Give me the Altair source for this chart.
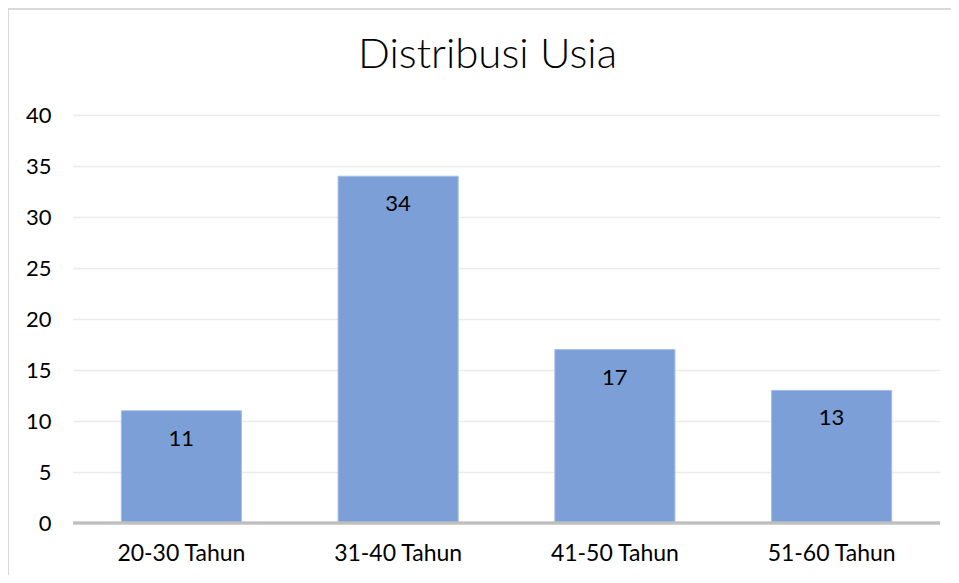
import altair as alt
import pandas as pd

categories = ["20-30 Tahun", "31-40 Tahun", "41-50 Tahun", "51-60 Tahun"]
counts = [11, 34, 17, 13]
y_ticks = [0, 5, 10, 15, 20, 25, 30, 35, 40]

df = pd.DataFrame({"kategori": categories, "jumlah": counts})

FONT = "Lato"
W, H = 867, 408

x = alt.X("kategori:N", sort=categories, title=None,
          scale=alt.Scale(paddingInner=0.446, paddingOuter=0.223),
          axis=alt.Axis(labelAngle=0, labelFont=FONT, labelFontSize=23, labelColor="#000000",
                        ticks=False, domain=False, grid=False, labelPadding=19))
y = alt.Y("jumlah:Q", title=None,
          scale=alt.Scale(domain=[0, 40], nice=False),
          axis=alt.Axis(values=y_ticks, labelFont=FONT, labelFontSize=22, labelColor="#000000",
                        ticks=False, domain=False, grid=True, gridColor="#ebebeb", gridWidth=1.3,
                        labelPadding=22))

bars = alt.Chart(df).mark_bar(color="#7b9fd6", stroke="#a3bde6", strokeWidth=1).encode(x=x, y=y)

labels = alt.Chart(df).mark_text(font=FONT, fontSize=22, color="#000000", baseline="middle", dy=28).encode(
    x=alt.X("kategori:N", sort=categories), y="jumlah:Q", text="jumlah:Q")

baseline = alt.Chart(df).mark_rule(color="#bfbfbf", strokeWidth=2.5).encode(
    x=alt.value(0), x2=alt.value(W), y=alt.value(H))

frame_top = alt.Chart(df).mark_rule(color="#d9d9d9", strokeWidth=2).encode(
    x=alt.value(-65), x2=alt.value(W + 11), y=alt.value(-106))
frame_left = alt.Chart(df).mark_rule(color="#d9d9d9", strokeWidth=2).encode(
    x=alt.value(-65), y=alt.value(-106), y2=alt.value(H + 52))

chart = alt.layer(frame_top, frame_left, bars, baseline, labels).properties(
    width=W, height=H,
    view=alt.ViewBackground(strokeOpacity=0, strokeWidth=0),
    title=alt.TitleParams("Distribusi Usia", font=FONT, fontSize=42, fontWeight=300,
                          color="#000000", anchor="middle", frame="group", offset=0,
                          baseline="alphabetic", dy=102, dx=-19),
    autosize=alt.AutoSizeParams(type="none"),
    padding={"left": 65, "top": 107, "right": 11, "bottom": 52},
).configure_view(strokeWidth=0, strokeOpacity=0).configure(background="white")

chart.save("out.html", embed_options={"renderer": "svg", "actions": False})
